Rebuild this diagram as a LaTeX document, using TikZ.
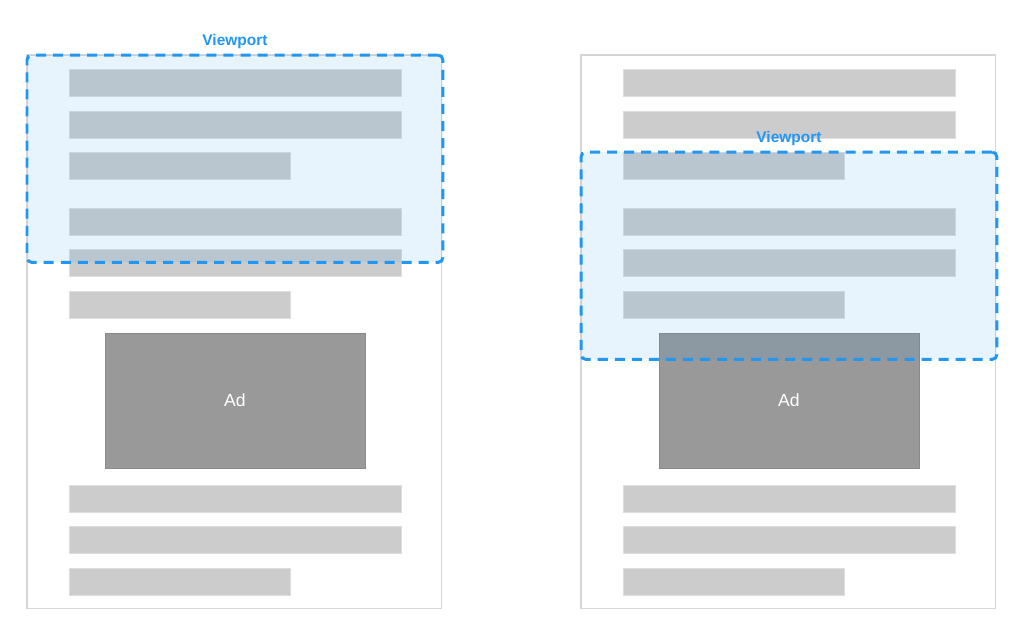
\documentclass[tikz,border=0pt]{standalone}
\usepackage{fontspec}
\setmainfont{Liberation Sans}
\usetikzlibrary{positioning}
\definecolor{vpblue}{HTML}{2196F3}
\definecolor{barfill}{HTML}{CCCCCC}
\definecolor{baredge}{HTML}{DEDEDE}
\definecolor{adfill}{HTML}{999999}
\definecolor{adedge}{HTML}{8A8A8A}
\definecolor{pageedge}{HTML}{D6D6D6}

\begin{document}
\begin{tikzpicture}[
      x=0.02cm, y=-0.02cm,
      page/.style={
        rectangle,
        draw=pageedge,
        line width=0.6pt,
        fill=white,
        inner sep=0, outer sep=0,
        minimum width=8.3cm, minimum height=11.08cm,
        anchor=north west,
      },
      bar/.style={
        rectangle,
        draw=baredge,
        fill=barfill,
        line width=0.5pt,
        inner sep=0, outer sep=0,
        minimum height=0.54cm,
        anchor=north west,
      },
      adbox/.style={
        rectangle,
        draw=adedge,
        fill=adfill,
        line width=0.5pt,
        inner sep=0, outer sep=0,
        minimum width=5.2cm, minimum height=2.7cm,
        anchor=north west,
        text=white,
        font=\fontsize{10}{12}\selectfont,
      },
      viewport/.style={
        rectangle,
        draw=vpblue,
        fill=vpblue,
        fill opacity=0.1,
        draw opacity=1,
        line width=1.7pt,
        dash pattern=on 5.7pt off 4pt,
        rounded corners=2.8pt,
        inner sep=0, outer sep=0,
        minimum width=8.32cm, minimum height=4.15cm,
        anchor=north west,
      },
      vplabel/.style={
        text=vpblue,
        font=\bfseries\fontsize{8.8}{10}\selectfont,
        inner sep=0,
      }
      ]
      \useasboundingbox (0,0) rectangle (1024,637);
      \foreach \side/\dx/\vy in {L/0/55, R/554/152} {
        \node[page] (page\side) at (27+\dx,55) {};
        \foreach \i/\y/\w in {1/69/6.64, 2/111/6.64, 3/152/4.42,
                              4/208/6.64, 5/249/6.64, 6/291/4.42,
                              7/485/6.64, 8/526/6.64, 9/568/4.42} {
          \node[bar, minimum width=\w cm] (bar\side\i) at (69+\dx,\y) {};
        }
        \node[adbox] (ad\side) at (105+\dx,333) {Ad};
        \node[viewport] (vp\side) at (27+\dx,\vy) {};
        \node[vplabel, above=0.12cm of vp\side.north] (lbl\side) {Viewport};
      }
    \end{tikzpicture}
\end{document}
